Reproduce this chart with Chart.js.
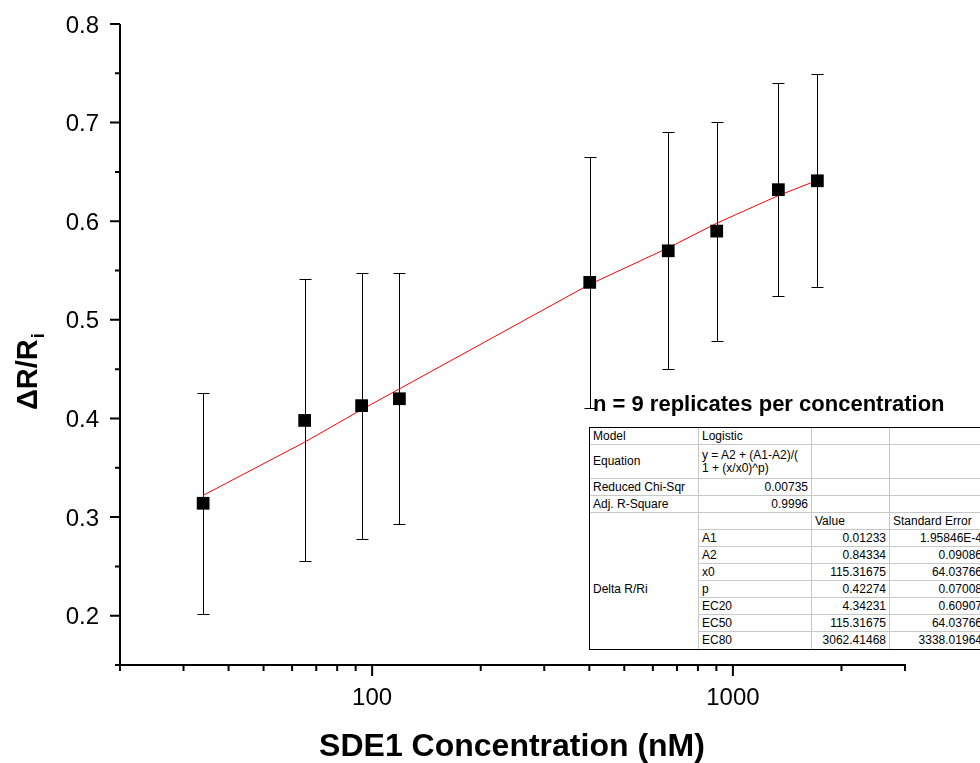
<!DOCTYPE html>
<html>
<head>
<meta charset="utf-8">
<script src="https://cdn.jsdelivr.net/npm/chart.js@4.4.1/dist/chart.umd.min.js"></script>
<style>
html,body{margin:0;padding:0;background:#fff;overflow:hidden;}
#wrap{position:relative;width:980px;height:763px;overflow:hidden;}
#fitTable{position:absolute;left:589px;top:427px;border-collapse:separate;border-spacing:0;
  font:12px "Liberation Sans",Arial,sans-serif;background:#fff;color:#000;table-layout:fixed;
  border-left:1px solid #000;border-top:1px solid #000;border-bottom:1px solid #000;width:396px;}
#fitTable td{box-sizing:border-box;border-right:1px solid #c8c8c8;border-bottom:1px solid #c8c8c8;
  height:17px;padding:0 3px;white-space:nowrap;line-height:13px;overflow:hidden;vertical-align:middle;}
#fitTable td.r{text-align:right;}
#fitTable td.eq{white-space:pre;height:34px;}
#fitTable td.nb{border-bottom:none;}
</style>
</head>
<body>
<div id="wrap">
  <canvas id="c" width="980" height="763"></canvas>
  <table id="fitTable">
    <colgroup><col style="width:109px"><col style="width:113px"><col style="width:78px"><col style="width:96px"></colgroup>
    <tbody id="tb"></tbody>
  </table>
</div>
<script>
// ---- data ----
const concentrations = [34, 65, 93.5, 119, 401, 662, 902, 1337, 1715];          // nM
const meanRatio      = [0.314, 0.398, 0.413, 0.420, 0.538, 0.570, 0.590, 0.632, 0.641];
const stdDev         = [0.112, 0.143, 0.135, 0.127, 0.127, 0.120, 0.111, 0.108, 0.108];
// logistic fit line
const fitConc        = [34, 65, 93.5, 119, 401, 662, 902, 1337, 1715];
const fitRatio       = [0.322, 0.376, 0.409, 0.430, 0.536, 0.573, 0.598, 0.626, 0.6415];
// axes
const xMajorTicks = [100, 1000];
const xMinorTicks = [20, 30, 40, 50, 60, 70, 80, 90, 200, 300, 400, 500, 600, 700, 800, 900, 2000, 3000];
const yMajorTicks = [0.2, 0.3, 0.4, 0.5, 0.6, 0.7, 0.8];
const yMinorTicks = [0.25, 0.35, 0.45, 0.55, 0.65, 0.75];
const xTitle = 'SDE1 Concentration (nM)';
const yTitleMain = 'ΔR/R';
const yTitleSub = 'i';
const noteText = 'n = 9 replicates per concentration';
// fit table
const fitInfoRows = [['Model', 'Logistic'], ['Equation', 'y = A2 + (A1-A2)/(\n1 + (x/x0)^p)'],
                     ['Reduced Chi-Sqr', '0.00735'], ['Adj. R-Square', '0.9996']];
const paramHeader = ['Value', 'Standard Error'];
const paramGroup = 'Delta R/Ri';
const paramNames  = ['A1', 'A2', 'x0', 'p', 'EC20', 'EC50', 'EC80'];
const paramValues = ['0.01233', '0.84334', '115.31675', '0.42274', '4.34231', '115.31675', '3062.41468'];
const paramErrors = ['1.95846E-4', '0.09086', '64.03766', '0.07008', '0.60907', '64.03766', '3338.01964'];

// ---- build table ----
(function(){
  const tb = document.getElementById('tb');
  function td(tr, text, cls, extra){
    const c = document.createElement('td');
    c.textContent = text; if (cls) c.className = cls;
    if (extra) extra(c);
    tr.appendChild(c); return c;
  }
  fitInfoRows.forEach((r, i) => {
    const tr = document.createElement('tr');
    const isEq = r[0] === 'Equation';
    td(tr, r[0], isEq ? 'eq' : '');
    td(tr, r[1], isEq ? 'eq' : (i >= 2 ? 'r' : ''));
    td(tr, '', isEq ? 'eq' : ''); td(tr, '', isEq ? 'eq' : '');
    tb.appendChild(tr);
  });
  let tr = document.createElement('tr');
  td(tr, '', 'nb'); td(tr, ''); td(tr, paramHeader[0]); td(tr, paramHeader[1]);
  tb.appendChild(tr);
  paramNames.forEach((n, i) => {
    tr = document.createElement('tr');
    const last = i === paramNames.length - 1;
    if (i === 0) td(tr, paramGroup, 'nb', c => c.rowSpan = paramNames.length);
    td(tr, n, last ? 'nb' : ''); td(tr, paramValues[i], last ? 'r nb' : 'r'); td(tr, paramErrors[i], last ? 'r nb' : 'r');
    tb.appendChild(tr);
  });
})();

// ---- chart ----
const FONT = '"Liberation Sans", Arial, Helvetica, sans-serif';
const decorPlugin = {
  id: 'decor',
  beforeDatasetsDraw(chart) {
    const {ctx, scales: {x, y}} = chart;
    ctx.save();
    ctx.strokeStyle = '#000'; ctx.lineWidth = 1;
    concentrations.forEach((c, i) => {
      const px = Math.round(x.getPixelForValue(c)) + 0.5;
      const yt = Math.round(y.getPixelForValue(meanRatio[i] + stdDev[i])) + 0.5;
      const yb = Math.round(y.getPixelForValue(meanRatio[i] - stdDev[i])) + 0.5;
      ctx.beginPath();
      ctx.moveTo(px, yt); ctx.lineTo(px, yb);
      ctx.moveTo(px - 6, yt); ctx.lineTo(px + 6, yt);
      ctx.moveTo(px - 6, yb); ctx.lineTo(px + 6, yb);
      ctx.stroke();
    });
    ctx.restore();
  },
  afterDraw(chart) {
    const {ctx, chartArea: a, scales: {x, y}} = chart;
    ctx.save();
    ctx.strokeStyle = '#000'; ctx.fillStyle = '#000'; ctx.lineWidth = 2;
    // axis lines
    ctx.beginPath();
    ctx.moveTo(a.left, a.top); ctx.lineTo(a.left, a.bottom);
    ctx.moveTo(a.left - 5, a.bottom); ctx.lineTo(a.right + 1, a.bottom);
    ctx.stroke();
    // ticks
    ctx.beginPath();
    yMajorTicks.forEach(v => { const p = y.getPixelForValue(v); ctx.moveTo(a.left - 10, p); ctx.lineTo(a.left, p); });
    yMinorTicks.forEach(v => { const p = y.getPixelForValue(v); ctx.moveTo(a.left - 5, p); ctx.lineTo(a.left, p); });
    xMajorTicks.forEach(v => { const p = x.getPixelForValue(v); ctx.moveTo(p, a.bottom); ctx.lineTo(p, a.bottom + 11); });
    xMinorTicks.forEach(v => { const p = x.getPixelForValue(v); ctx.moveTo(p, a.bottom); ctx.lineTo(p, a.bottom + 6); });
    ctx.stroke();
    // tick labels
    ctx.font = '24px ' + FONT;
    ctx.textBaseline = 'alphabetic';
    ctx.textAlign = 'right';
    yMajorTicks.forEach(v => ctx.fillText(v.toFixed(1), a.left - 21, y.getPixelForValue(v) + 8.6));
    ctx.textAlign = 'center';
    xMajorTicks.forEach(v => ctx.fillText(String(v), x.getPixelForValue(v), 705));
    // x title
    ctx.font = 'bold 32px ' + FONT;
    ctx.fillText(xTitle, 512, 756);
    // y title
    ctx.save();
    ctx.translate(37, 410);
    ctx.rotate(-Math.PI / 2);
    ctx.textAlign = 'left';
    ctx.font = 'bold 29px ' + FONT;
    ctx.fillText(yTitleMain, 0, 0);
    const w = ctx.measureText(yTitleMain).width;
    ctx.font = 'bold 18px ' + FONT;
    ctx.fillText(yTitleSub, w + 1, 7);
    ctx.restore();
    // annotation
    ctx.textAlign = 'left';
    ctx.font = 'bold 22px ' + FONT;
    ctx.fillText(noteText, 593, 411);
    ctx.restore();
  }
};

new Chart(document.getElementById('c').getContext('2d'), {
  type: 'scatter',
  data: {
    datasets: [
      {
        label: 'Delta R/Ri',
        data: concentrations.map((c, i) => ({x: c, y: meanRatio[i]})),
        pointStyle: 'rect', pointRadius: 9, pointHoverRadius: 9,
        backgroundColor: '#000', borderColor: '#000', borderWidth: 0,
        order: 0
      },
      {
        type: 'line',
        label: 'Logistic fit',
        data: fitConc.map((c, i) => ({x: c, y: fitRatio[i]})),
        borderColor: '#ff0000', borderWidth: 1, pointRadius: 0, fill: false, tension: 0,
        order: 1
      }
    ]
  },
  options: {
    responsive: false,
    animation: false,
    events: [],
    layout: {padding: {left: 120, right: 75, top: 24, bottom: 98}},
    plugins: {legend: {display: false}, tooltip: {enabled: false}, title: {display: false}},
    scales: {
      x: {type: 'logarithmic', min: 20, max: 3000,
          grid: {display: false, drawTicks: false}, border: {display: false}, ticks: {display: false}},
      y: {type: 'linear', min: 0.15, max: 0.8,
          grid: {display: false, drawTicks: false}, border: {display: false}, ticks: {display: false}}
    }
  },
  plugins: [decorPlugin]
});
</script>
</body>
</html>
